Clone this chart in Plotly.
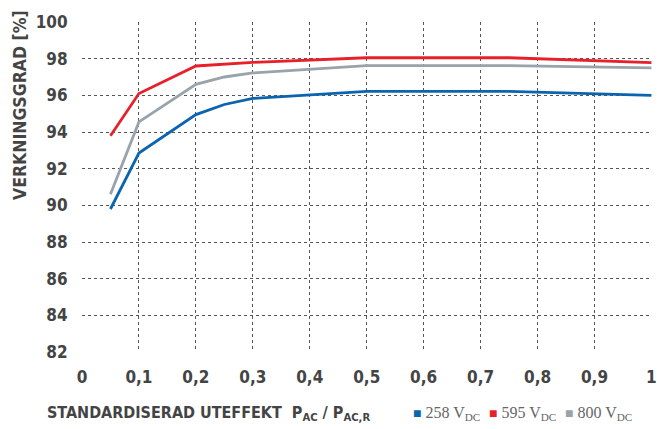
import plotly.graph_objects as go

x_vals = [0.05, 0.1, 0.2, 0.25, 0.3, 0.5, 0.75, 1.0]
eff_258 = [89.8, 92.85, 94.95, 95.5, 95.83, 96.22, 96.22, 96.0]
eff_595 = [93.8, 96.1, 97.6, 97.7, 97.8, 98.05, 98.05, 97.78]
eff_800 = [90.6, 94.55, 96.6, 97.0, 97.22, 97.62, 97.62, 97.5]
series_names = ["258 V<sub>DC</sub>", "595 V<sub>DC</sub>", "800 V<sub>DC</sub>"]
colors = ["#0a64b0", "#e8202a", "#98a3ab"]
x_ticks = [0, 0.1, 0.2, 0.3, 0.4, 0.5, 0.6, 0.7, 0.8, 0.9, 1.0]
x_ticklabels = ["0", "0,1", "0,2", "0,3", "0,4", "0,5", "0,6", "0,7", "0,8", "0,9", "1"]
y_ticks = [82, 84, 86, 88, 90, 92, 94, 96, 98, 100]

bold_font = "DejaVu Sans Condensed, Liberation Sans Narrow, sans-serif"
serif_font = "Liberation Serif, DejaVu Serif, serif"
text_color = "#444444"

fig = go.Figure()
for ys, name, col in zip([eff_258, eff_595, eff_800], series_names, colors):
    fig.add_trace(go.Scatter(x=x_vals, y=ys, mode="lines", name=name,
                             line=dict(color=col, width=2.8),
                             showlegend=False, cliponaxis=False, hoverinfo="skip"))

legend_x = [0.577, 0.7105, 0.8439]
annotations = [
    dict(text="VERKNINGSGRAD [%]", textangle=-90, xref="paper", yref="paper",
         x=-0.109, xanchor="center", y=0.748, yanchor="middle",
         showarrow=False, font=dict(family=bold_font, size=17.5, color=text_color, weight="bold")),
    dict(text="STANDARDISERAD UTEFFEKT  P<sub>AC</sub> / P<sub>AC,R</sub>", xref="paper", yref="paper",
         x=-0.065, xanchor="left", y=-0.185, yanchor="middle",
         showarrow=False, font=dict(family=bold_font, size=16, color=text_color, weight="bold")),
]
for lx, name, col in zip(legend_x, series_names, colors):
    annotations.append(dict(
        text=f"<span style='color:{col};font-size:14px'>■</span> {name}",
        xref="paper", yref="paper", x=lx, xanchor="left", y=-0.185, yanchor="middle",
        showarrow=False, font=dict(family=serif_font, size=16, color="#666666")))

fig.update_layout(
    width=657, height=429,
    margin=dict(l=82, r=5, t=22, b=77),
    plot_bgcolor="white", paper_bgcolor="white",
    font=dict(family=bold_font, color=text_color),
    showlegend=False,
    xaxis=dict(range=[0, 1.001], tickvals=x_ticks, ticktext=x_ticklabels, automargin=False,
               showgrid=True, gridcolor="#555555", griddash="dot", gridwidth=1,
               zeroline=False, showline=False, ticks="outside", ticklen=10, tickcolor="rgba(0,0,0,0)",
               tickfont=dict(family=bold_font, size=17, color=text_color, weight="bold")),
    yaxis=dict(range=[82, 100], tickvals=y_ticks, automargin=False,
               showgrid=True, gridcolor="#555555", griddash="dot", gridwidth=1,
               zeroline=False, showline=False, ticks="outside", ticklen=10, tickcolor="rgba(0,0,0,0)",
               tickfont=dict(family=bold_font, size=17, color=text_color, weight="bold")),
    annotations=annotations,
)
fig.write_html("out.html", config={"displayModeBar": False},
               post_script="document.body.style.margin='0px';document.body.style.overflow='hidden';")
